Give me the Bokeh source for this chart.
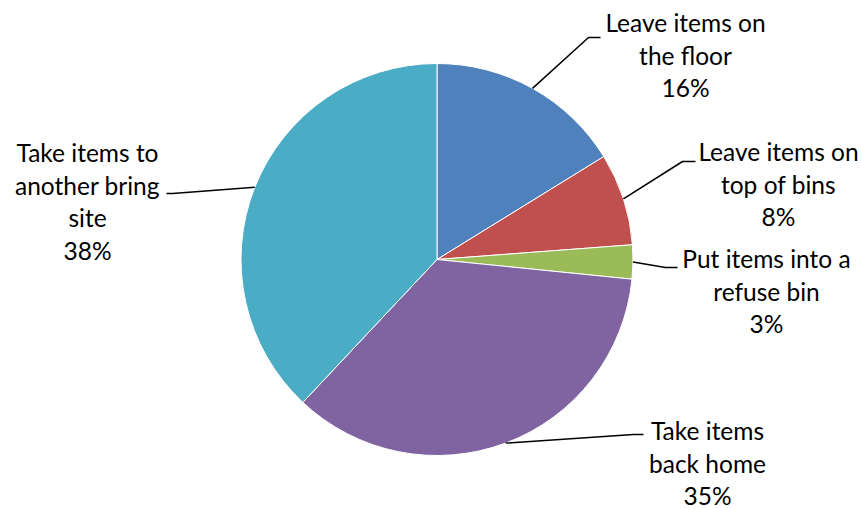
import math
from bokeh.plotting import figure
from bokeh.models import Range1d, ColumnDataSource
from bokeh.core.properties import value
from bokeh.embed import file_html
from bokeh.resources import INLINE

# ---- data ----
categories = ["Leave items on the floor", "Leave items on top of bins",
              "Put items into a refuse bin", "Take items back home",
              "Take items to another bring site"]
label_lines = [["Leave items on", "the floor"],
               ["Leave items on", "top of bins"],
               ["Put items into a", "refuse bin"],
               ["Take items", "back home"],
               ["Take items to", "another bring", "site"]]
shares = [16.2, 7.6, 2.8, 35.4, 38.0]
colors = ["#4F81BD", "#C0504D", "#9BBB59", "#8064A2", "#4BACC6"]

# ---- layout (screen pixel coordinates of the page) ----
W, H = 861, 509
CX, CY, R = 436.5, 259.0, 196.0
FONT = "Lato"
FSIZE = "24.5px"
LINE_H = 32.5
TEXT_SHIFT = -10
# label centre x and first baseline y
label_pos = [(685, 32), (778, 161), (766, 268), (707, 440), (87, 162)]
# leader elbow and end points
leader_elbow = [((588, 37), (600, 37)), ((682, 161), (695, 161)),
                ((665, 267), (677, 267)), ((633, 434), (643, 434)),
                ((172, 193), (166, 193))]


def Y(sy):
    return H - sy


p = figure(width=W, height=H, output_backend="svg", toolbar_location=None,
           x_range=Range1d(0, W), y_range=Range1d(0, H),
           x_axis_type=None, y_axis_type=None, min_border=0)
p.outline_line_color = None
p.grid.visible = False
p.background_fill_color = "white"
p.border_fill_color = "white"

total = sum(shares)
starts, ends, mids = [], [], []
cum = 0.0
for s in shares:
    a0 = math.pi / 2 - 2 * math.pi * cum / total
    cum += s
    a1 = math.pi / 2 - 2 * math.pi * cum / total
    starts.append(a1)
    ends.append(a0)
    mids.append((a0 + a1) / 2)

src = ColumnDataSource(dict(start=starts, end=ends, color=colors))
p.wedge(x=CX, y=Y(CY), radius=R, start_angle="start", end_angle="end",
        direction="anticlock", fill_color="color", line_color="white",
        line_width=1, source=src)

# leader lines
for i, m in enumerate(mids):
    x0 = CX + R * math.cos(m)
    y0 = CY - R * math.sin(m)
    (ex, ey), (fx, fy) = leader_elbow[i]
    p.line([x0, ex, fx], [Y(y0), Y(ey), Y(fy)], line_color="black", line_width=1.5)

# labels
for i, lines in enumerate(label_lines):
    pct = f"{round(shares[i] / total * 100):.0f}%"
    allines = lines + [pct]
    cx, by = label_pos[i]
    xs = [cx] * len(allines)
    ys = [Y(by + TEXT_SHIFT + k * LINE_H) for k in range(len(allines))]
    p.text(x=xs, y=ys, text=allines, text_align="center",
           text_baseline="alphabetic", text_font=value(FONT),
           text_font_size=FSIZE, text_color="black")

open("out.html", "w").write(file_html(p, INLINE))
